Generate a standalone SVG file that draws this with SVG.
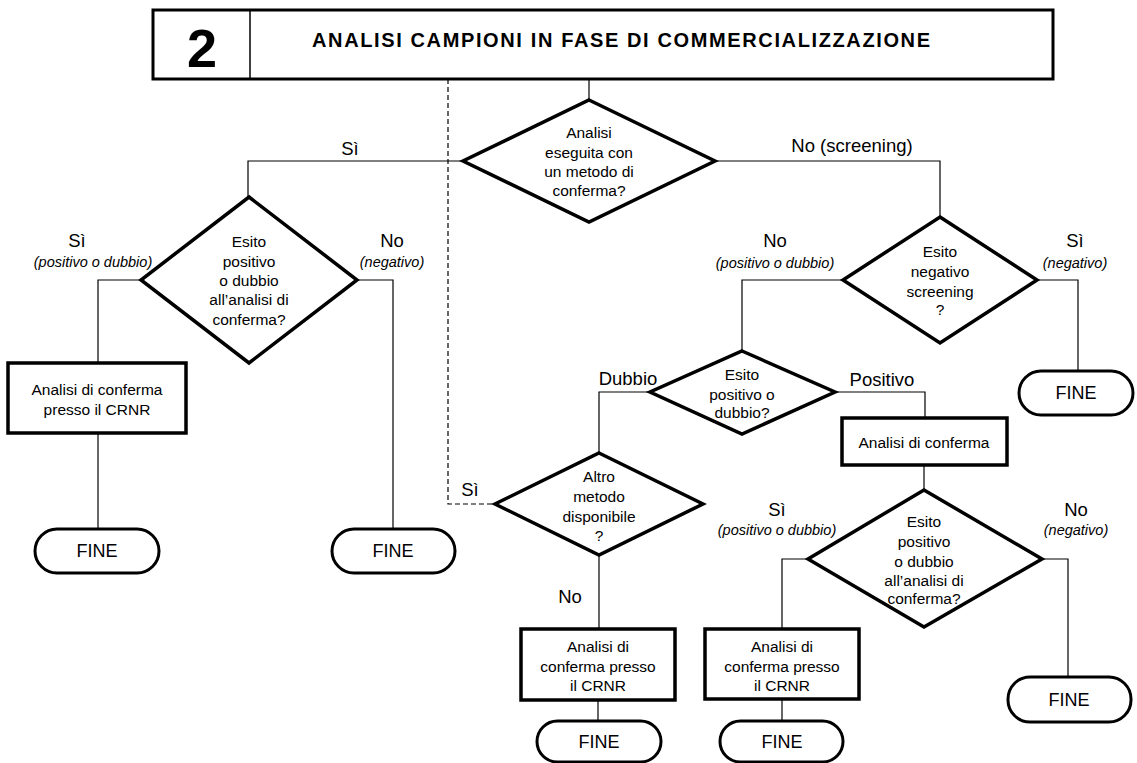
<svg xmlns="http://www.w3.org/2000/svg" width="1137" height="763" viewBox="0 0 1137 763">
<style>
.shape{fill:#fff;stroke:#000;stroke-width:3.5;stroke-linejoin:miter}
.term{fill:#fff;stroke:#000;stroke-width:3}
.conn{fill:none;stroke:#000;stroke-width:1.2}
.dash{fill:none;stroke:#000;stroke-width:1.2;stroke-dasharray:5 3}
text{font-family:"Liberation Sans",Arial,sans-serif;fill:#000}
.t{font-size:15.5px;text-anchor:middle}
.lbl{font-size:18.5px;text-anchor:middle}
.it{font-size:14.5px;font-style:italic;text-anchor:middle}
.fine{font-size:18px;text-anchor:middle}
</style>
<rect width="1137" height="763" fill="#fff"/>
<g id="connectors">
<line class="conn" x1="589" y1="79" x2="589" y2="100"/>
<polyline class="dash" points="448,79 448,504 495,504"/>
<polyline class="conn" points="463,161 248,161 248,197"/>
<polyline class="conn" points="715,161 940,161 940,217"/>
<polyline class="conn" points="141,280 98,280 98,363"/>
<polyline class="conn" points="357,280 393,280 393,529"/>
<line class="conn" x1="98" y1="433" x2="98" y2="529"/>
<polyline class="conn" points="843,280 742,280 742,351"/>
<polyline class="conn" points="1037,280 1078,280 1078,371"/>
<polyline class="conn" points="650,392 599,392 599,453"/>
<polyline class="conn" points="835,392 925,392 925,418"/>
<line class="conn" x1="924" y1="465" x2="924" y2="490"/>
<polyline class="conn" points="808,559 782,559 782,629"/>
<polyline class="conn" points="1042,559 1068,559 1068,677"/>
<line class="conn" x1="782" y1="699" x2="782" y2="721"/>
<line class="conn" x1="599" y1="555" x2="599" y2="629"/>
<line class="conn" x1="598" y1="700" x2="598" y2="721"/>
<text class="lbl" x="350" y="155">Sì</text>
<text class="lbl" x="852" y="152">No (screening)</text>
<text class="lbl" x="77" y="247">Sì</text>
<text class="it" x="93" y="267">(positivo o dubbio)</text>
<text class="lbl" x="392" y="247">No</text>
<text class="it" x="392" y="267">(negativo)</text>
<text class="lbl" x="775" y="247">No</text>
<text class="it" x="775" y="268">(positivo o dubbio)</text>
<text class="lbl" x="1075" y="247">Sì</text>
<text class="it" x="1075" y="268">(negativo)</text>
<text class="lbl" x="628" y="385">Dubbio</text>
<text class="lbl" x="882" y="386">Positivo</text>
<text class="lbl" x="470" y="496">Sì</text>
<text class="lbl" x="570" y="603">No</text>
<text class="lbl" x="777" y="516">Sì</text>
<text class="it" x="777" y="535">(positivo o dubbio)</text>
<text class="lbl" x="1076" y="516">No</text>
<text class="it" x="1076" y="535">(negativo)</text>
</g>
<g id="header">
<rect x="153" y="10" width="900" height="69" fill="#fff" stroke="#000" stroke-width="3"/>
<line x1="250" y1="10" x2="250" y2="79" stroke="#000" stroke-width="1.5"/>
<text x="202" y="67" font-size="54" font-weight="bold" text-anchor="middle">2</text>
<text x="312" y="47" font-size="20" font-weight="bold" textLength="618" lengthAdjust="spacing">ANALISI CAMPIONI IN FASE DI COMMERCIALIZZAZIONE</text>
</g>
<g id="d1">
<polygon class="shape" points="589,100 715,161 589,222 463,161"/>
<text class="t" x="589" y="138">Analisi</text>
<text class="t" x="589" y="158">eseguita con</text>
<text class="t" x="589" y="177">un metodo di</text>
<text class="t" x="589" y="196">conferma?</text>
</g>
<g id="d2">
<polygon class="shape" points="249,197 357,280 249,363 141,280"/>
<text class="t" x="249" y="247">Esito</text>
<text class="t" x="249" y="267">positivo</text>
<text class="t" x="249" y="286">o dubbio</text>
<text class="t" x="249" y="305">all’analisi di</text>
<text class="t" x="249" y="325">conferma?</text>
</g>
<g id="b1">
<rect class="shape" x="8" y="363" width="178" height="70"/>
<text class="t" x="97" y="395">Analisi di conferma</text>
<text class="t" x="97" y="415">presso il CRNR</text>
</g>
<g id="f1">
<rect class="term" x="35" y="529" width="124" height="44" rx="22"/>
<text class="fine" x="97" y="557">FINE</text>
</g>
<g id="f2">
<rect class="term" x="332" y="529" width="123" height="44" rx="22"/>
<text class="fine" x="393" y="557">FINE</text>
</g>
<g id="d3">
<polygon class="shape" points="940,217 1037,280 940,343 843,280"/>
<text class="t" x="940" y="257">Esito</text>
<text class="t" x="940" y="277">negativo</text>
<text class="t" x="940" y="297">screening</text>
<text class="t" x="940" y="315">?</text>
</g>
<g id="f3">
<rect class="term" x="1019" y="371" width="114" height="44" rx="22"/>
<text class="fine" x="1076" y="399">FINE</text>
</g>
<g id="d4">
<polygon class="shape" points="742,351 835,392 742,434 650,392"/>
<text class="t" x="742" y="380">Esito</text>
<text class="t" x="742" y="400">positivo o</text>
<text class="t" x="742" y="418">dubbio?</text>
</g>
<g id="b2">
<rect class="shape" x="842" y="418" width="165" height="47"/>
<text class="t" x="924" y="448">Analisi di conferma</text>
</g>
<g id="d5">
<polygon class="shape" points="924,490 1042,559 924,627 808,559"/>
<text class="t" x="924" y="527">Esito</text>
<text class="t" x="924" y="547">positivo</text>
<text class="t" x="924" y="567">o dubbio</text>
<text class="t" x="924" y="586">all’analisi di</text>
<text class="t" x="924" y="604">conferma?</text>
</g>
<g id="f4">
<rect class="term" x="1008" y="677" width="123" height="45" rx="22"/>
<text class="fine" x="1069" y="706">FINE</text>
</g>
<g id="d6">
<polygon class="shape" points="599,453 703,504 599,555 495,504"/>
<text class="t" x="599" y="482">Altro</text>
<text class="t" x="599" y="502">metodo</text>
<text class="t" x="599" y="522">disponibile</text>
<text class="t" x="599" y="541">?</text>
</g>
<g id="b3">
<rect class="shape" x="521" y="629" width="154" height="71"/>
<text class="t" x="598" y="652">Analisi di</text>
<text class="t" x="598" y="672">conferma presso</text>
<text class="t" x="598" y="691">il CRNR</text>
</g>
<g id="b4">
<rect class="shape" x="705" y="629" width="154" height="70"/>
<text class="t" x="782" y="652">Analisi di</text>
<text class="t" x="782" y="672">conferma presso</text>
<text class="t" x="782" y="691">il CRNR</text>
</g>
<g id="f5">
<rect class="term" x="537" y="721" width="124" height="41" rx="20.5"/>
<text class="fine" x="599" y="748">FINE</text>
</g>
<g id="f6">
<rect class="term" x="720" y="721" width="123" height="41" rx="20.5"/>
<text class="fine" x="782" y="748">FINE</text>
</g>
</svg>
